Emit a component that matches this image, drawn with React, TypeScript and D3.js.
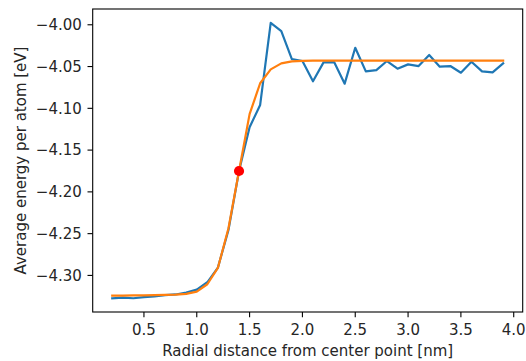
import React from "react";
import * as d3 from "d3";

const xValues = [0.2,0.3,0.4,0.5,0.6,0.7,0.8,0.9,1.0,1.1,1.2,1.3,1.4,1.5,1.6,1.7,1.8,1.9,2.0,2.1,2.2,2.3,2.4,2.5,2.6,2.7,2.8,2.9,3.0,3.1,3.2,3.3,3.4,3.5,3.6,3.7,3.8,3.9];
const blueValues = [-4.3273,-4.3265,-4.3273,-4.326,-4.325,-4.3237,-4.3228,-4.3205,-4.317,-4.3082,-4.2907,-4.2456,-4.175,-4.1227,-4.096,-3.9976,-4.0075,-4.041,-4.0434,-4.0677,-4.045,-4.0446,-4.0705,-4.0275,-4.0558,-4.0542,-4.0434,-4.0526,-4.0474,-4.0494,-4.0362,-4.0502,-4.0494,-4.0574,-4.0442,-4.0558,-4.057,-4.0462];
const orangeValues = [-4.3241,-4.3241,-4.324,-4.3239,-4.3237,-4.3234,-4.323,-4.322,-4.3194,-4.3106,-4.291,-4.2436,-4.175,-4.107,-4.070,-4.0534,-4.0462,-4.0438,-4.0431,-4.0429,-4.0428,-4.0428,-4.0428,-4.0428,-4.0428,-4.0428,-4.0428,-4.0428,-4.0428,-4.0428,-4.0428,-4.0428,-4.0428,-4.0428,-4.0428,-4.0428,-4.0428,-4.0428];
const markerPoint = { x: 1.4, y: -4.175 };
const xTicks = [0.5,1.0,1.5,2.0,2.5,3.0,3.5,4.0];
const yTicks = [-4.00,-4.05,-4.10,-4.15,-4.20,-4.25,-4.30];
const xLabel = "Radial distance from center point [nm]";
const yLabel = "Average energy per atom [eV]";

export default function App() {
  const W = 526, H = 361;
  const left = 92.7, right = 522.7, top = 9, bottom = 312;
  const all = blueValues.concat(orangeValues);
  const xmin = d3.min(xValues)!, xmax = d3.max(xValues)!;
  const ymin = d3.min(all)!, ymax = d3.max(all)!;
  const xm = (xmax - xmin) * 0.05, ym = (ymax - ymin) * 0.05;
  const x = d3.scaleLinear().domain([xmin - xm, xmax + xm]).range([left, right]);
  const y = d3.scaleLinear().domain([ymin - ym, ymax + ym]).range([bottom, top]);
  const line = d3.line<number>().x((_, i) => x(xValues[i])).y(d => y(d));
  const font = "'DejaVu Sans', sans-serif";
  const fs = 15;
  const tl = 5.2;
  const fmt = d3.format(".1f");
  const fmtY = (v: number) => d3.format(".2f")(v).replace("-", "\u2212");
  return (
    <svg width={W} height={H} style={{ position: "absolute", left: 0, top: 0 }} fontFamily={font}>
      <rect width={W} height={H} fill="white" />
      <defs>
        <clipPath id="clip"><rect x={left} y={top} width={right - left} height={bottom - top} /></clipPath>
      </defs>
      <g clipPath="url(#clip)">
        <path d={line(blueValues)!} fill="none" stroke="#1f77b4" strokeWidth={2.2} strokeLinejoin="round" strokeLinecap="square" />
        <path d={line(orangeValues)!} fill="none" stroke="#ff7f0e" strokeWidth={2.2} strokeLinejoin="round" strokeLinecap="square" />
        <circle cx={x(markerPoint.x)} cy={y(markerPoint.y)} r={5.1} fill="red" />
      </g>
      <rect x={left} y={top} width={right - left} height={bottom - top} fill="none" stroke="black" strokeWidth={1.1} />
      {xTicks.map(t => (
        <g key={t}>
          <line x1={x(t)} x2={x(t)} y1={bottom} y2={bottom + tl} stroke="black" strokeWidth={1.1} />
          <text x={x(t)} y={335} textAnchor="middle" fontSize={fs} fill="#262626">{fmt(t)}</text>
        </g>
      ))}
      {yTicks.map(t => (
        <g key={t}>
          <line x1={left - tl} x2={left} y1={y(t)} y2={y(t)} stroke="black" strokeWidth={1.1} />
          <text x={left - 2 * tl - 0.5} y={y(t)} dy="0.36em" textAnchor="end" fontSize={fs} fill="#262626">{fmtY(t)}</text>
        </g>
      ))}
      <text x={(left + right) / 2} y={355.5} textAnchor="middle" fontSize={fs} fill="#262626">{xLabel}</text>
      <text transform={`translate(26,${(top + bottom) / 2}) rotate(-90)`} textAnchor="middle" fontSize={fs} fill="#262626">{yLabel}</text>
    </svg>
  );
}
